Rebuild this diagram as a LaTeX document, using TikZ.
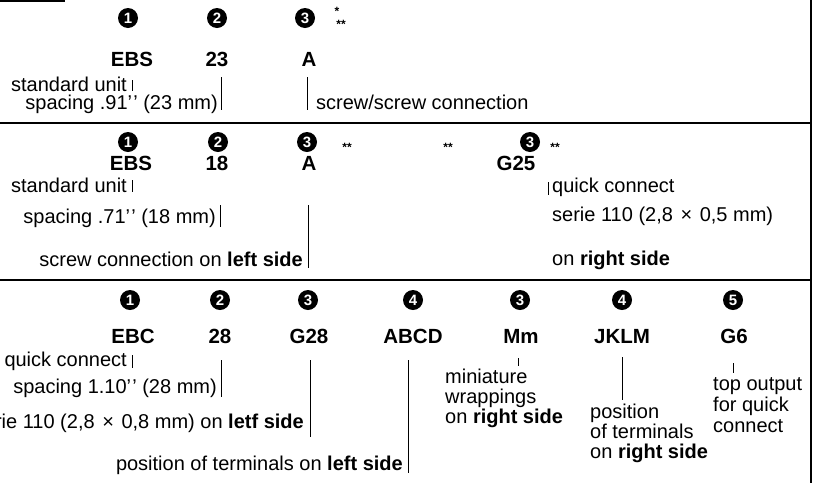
\documentclass[tikz,border=0pt]{standalone}
\usepackage{fontspec}
\setmainfont{Liberation Sans}
\newcommand{\dq}{’\kern1.2pt’}
\newcommand{\tms}{\ \hspace{2pt}×\hspace{2pt}\ }
\begin{document}
\begin{tikzpicture}[x=1pt,y=-1pt,
  num/.style={circle, fill=black, text=white, inner sep=0pt, minimum size=20pt,
    font=\fontsize{15}{15}\selectfont\bfseries},
  code/.style={font=\fontsize{20.5}{21}\selectfont\bfseries, inner sep=0pt, anchor=base},
  txtl/.style={font=\fontsize{20}{20}\selectfont, inner sep=0pt, anchor=base west},
  txtr/.style={font=\fontsize{20}{20}\selectfont, inner sep=0pt, anchor=base east},
  star/.style={font=\fontsize{12}{12}\selectfont\bfseries, inner sep=0pt},
  bar/.style={line width=0.8pt},
  rulel/.style={line width=1.6pt}]
\useasboundingbox (0,0) rectangle (822,483);
\clip (0,0) rectangle (822,483);

% frame lines
\coordinate (t0) at (0,1);   \coordinate (t1) at (65,1);
\coordinate (h1a) at (0,123); \coordinate (h1b) at (811,123);
\coordinate (h2a) at (0,280); \coordinate (h2b) at (811,280);
\coordinate (v0) at (811,0); \coordinate (v1) at (811,483);
\draw[rulel] (t0) -- (t1);
\draw[rulel] (h1a) -- (h1b);
\draw[rulel] (h2a) -- (h2b);
\draw[line width=2pt] (v0) -- (v1);

% ---------- section 1 ----------
\node[num] (a1) at (128,18) {1};
\node[num] (a2) at (217,18) {2};
\node[num] (a3) at (305,18) {3};
\node[star] (as1) at (337,11) {*};
\node[star] (as2) at (341,24) {**};
\node[code] (aEBS) at (132,66) {EBS};
\node[code] (a23) at (217,66) {23};
\node[code] (aA) at (309,66) {A};
\node[txtr] (asu) at (127,91) {standard unit};
\node[txtr] (asp) at (218,109) {spacing .91\dq\ (23 mm)};
\node[txtl] (asc) at (316,109) {screw/screw connection};
\coordinate (ab1t) at (132,80); \coordinate (ab1b) at (132,91);
\coordinate (ab2t) at (221,77); \coordinate (ab2b) at (221,110);
\coordinate (ab3t) at (307,77); \coordinate (ab3b) at (307,110);
\draw[bar] (ab1t) -- (ab1b);
\draw[bar] (ab2t) -- (ab2b);
\draw[bar] (ab3t) -- (ab3b);

% ---------- section 2 ----------
\node[num] (b1) at (128,142) {1};
\node[num] (b2) at (218,142) {2};
\node[num] (b3) at (307,142) {3};
\node[star] (bs1) at (347,147) {**};
\node[star] (bs2) at (448,147) {**};
\node[num] (b3r) at (530,142) {3};
\node[star] (bs3) at (555,147) {**};
\node[code] (bEBS) at (131,170) {EBS};
\node[code] (b18) at (217,170) {18};
\node[code] (bA) at (309,170) {A};
\node[code] (bG25) at (516,170) {G25};
\node[txtr] (bsu) at (127,192) {standard unit};
\node[txtr] (bsp) at (216,223) {spacing .71\dq\ (18 mm)};
\node[txtr] (bsc) at (303,266) {screw connection on \textbf{left side}};
\node[txtl] (bq1) at (552,192) {quick connect};
\node[txtl] (bq2) at (552,221) {serie 110 (2,8\tms 0,5 mm)};
\node[txtl] (bq3) at (552,265) {on \textbf{right side}};
\coordinate (bb1t) at (132,180); \coordinate (bb1b) at (132,192);
\coordinate (bb2t) at (220,205); \coordinate (bb2b) at (220,227);
\coordinate (bb3t) at (308,205); \coordinate (bb3b) at (308,268);
\coordinate (bb4t) at (548,182); \coordinate (bb4b) at (548,195);
\draw[bar] (bb1t) -- (bb1b);
\draw[bar] (bb2t) -- (bb2b);
\draw[bar] (bb3t) -- (bb3b);
\draw[bar] (bb4t) -- (bb4b);

% ---------- section 3 ----------
\node[num] (c1) at (130,300) {1};
\node[num] (c2) at (220,300) {2};
\node[num] (c3) at (308,300) {3};
\node[num] (c4) at (413,300) {4};
\node[num] (c3r) at (520,300) {3};
\node[num] (c4r) at (622,300) {4};
\node[num] (c5) at (733,300) {5};
\node[code] (cEBC) at (133,343) {EBC};
\node[code] (c28) at (220,343) {28};
\node[code] (cG28) at (309,343) {G28};
\node[code] (cABCD) at (413,343) {ABCD};
\node[code] (cMm) at (521,343) {Mm};
\node[code] (cJKLM) at (622,343) {JKLM};
\node[code] (cG6) at (734,343) {G6};
\node[txtr] (cqc) at (127,366) {quick connect};
\node[txtr] (csp) at (217,393) {spacing 1.10\dq\ (28 mm)};
\node[txtr] (cse) at (304,428) {serie 110 (2,8\tms 0,8 mm) on \textbf{letf side}};
\node[txtr] (cpo) at (403,470) {position of terminals on \textbf{left side}};
\node[txtl] (cm1) at (445,383) {miniature};
\node[txtl] (cm2) at (445,403) {wrappings};
\node[txtl] (cm3) at (445,423) {on \textbf{right side}};
\node[txtl] (cp1) at (590,418) {position};
\node[txtl] (cp2) at (590,438) {of terminals};
\node[txtl] (cp3) at (590,458) {on \textbf{right side}};
\node[txtl] (ct1) at (713,390) {top output};
\node[txtl] (ct2) at (713,411) {for quick};
\node[txtl] (ct3) at (713,432) {connect};
\coordinate (cb1t) at (132,355); \coordinate (cb1b) at (132,368);
\coordinate (cb2t) at (221,360); \coordinate (cb2b) at (221,397);
\coordinate (cb3t) at (310,360); \coordinate (cb3b) at (310,437);
\coordinate (cb4t) at (408,360); \coordinate (cb4b) at (408,473);
\coordinate (cb5t) at (518,358); \coordinate (cb5b) at (518,366);
\coordinate (cb6t) at (622,357); \coordinate (cb6b) at (622,400);
\coordinate (cb7t) at (733,363); \coordinate (cb7b) at (733,373);
\draw[bar] (cb1t) -- (cb1b);
\draw[bar] (cb2t) -- (cb2b);
\draw[bar] (cb3t) -- (cb3b);
\draw[bar] (cb4t) -- (cb4b);
\draw[bar] (cb5t) -- (cb5b);
\draw[bar] (cb6t) -- (cb6b);
\draw[bar] (cb7t) -- (cb7b);
\end{tikzpicture}
\end{document}
